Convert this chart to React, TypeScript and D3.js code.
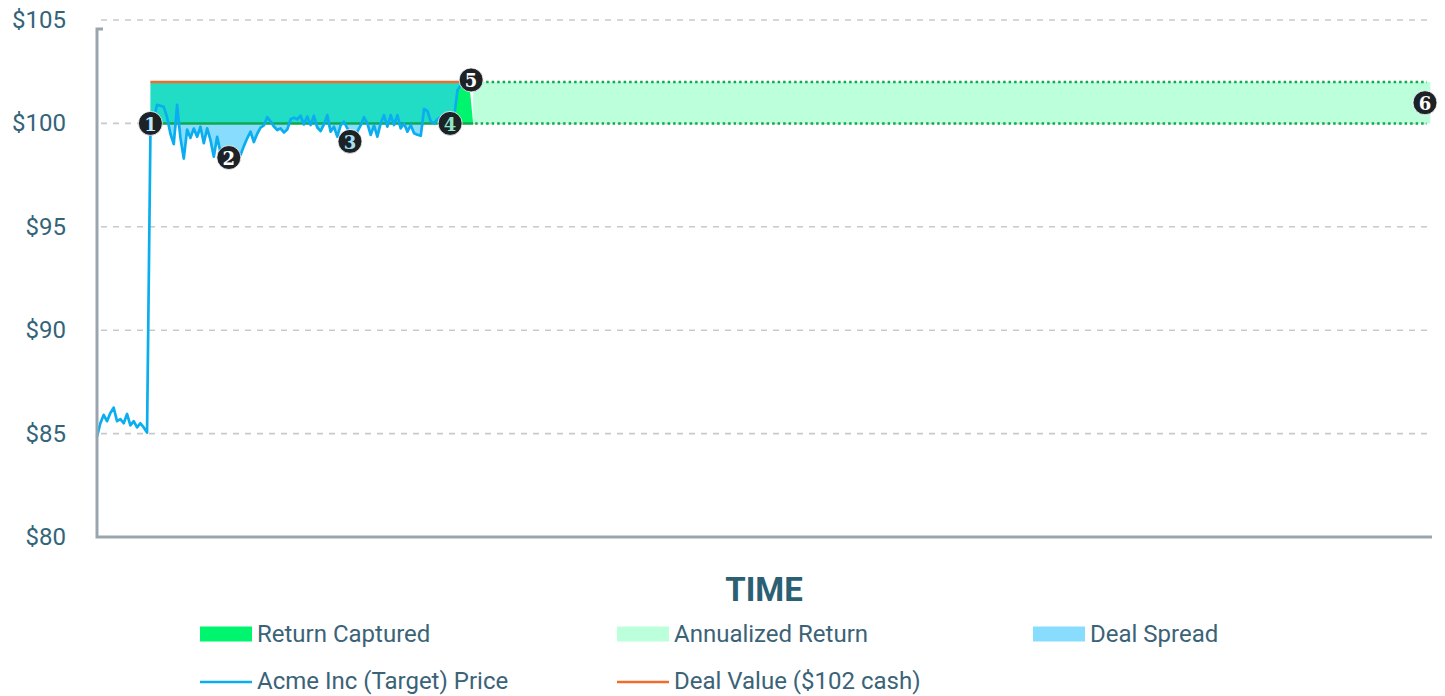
import React from "react";
import * as d3 from "d3";

// ---------- data ----------
const priceValues: number[] = [
  84.85, 85.5, 85.9, 85.6, 86.0, 86.25, 85.6, 85.7, 85.5, 85.95, 85.4, 85.6, 85.3, 85.5, 85.3, 85.05,
  99.4, 100.2, 100.9, 100.85, 100.8, 100.3, 99.5, 99.0, 100.9, 99.3, 98.3, 99.7, 99.3, 99.75,
  99.35, 99.84, 99.04, 99.76, 99.2, 98.39, 99.35, 98.6, 98.4, 98.5, 98.3, 98.4, 98.6, 98.47,
  98.9, 99.28, 99.6, 99.1, 99.5, 99.8, 99.9, 100.3, 100.1, 99.85, 99.68, 99.76, 99.56, 99.7,
  100.2, 100.28, 100.2, 100.37, 99.95, 100.33, 99.92, 100.37, 99.8, 99.63, 99.95, 100.4, 99.6,
  99.84, 99.36, 99.9, 100.08, 99.76, 99.4, 99.2, 99.6, 99.9, 100.3, 100.0, 99.44, 99.9, 99.36,
  100.0, 100.4, 99.84, 100.4, 99.92, 100.4, 99.76, 100.0, 99.6, 99.92, 99.52, 99.45, 99.4,
  100.7, 100.6, 100.1, 100.0, 100.2, 100.3, 100.0, 99.9, 100.0, 100.3, 101.6, 101.85, 102.0,
];
const yTicks: number[] = [80, 85, 90, 95, 100, 105];
const baseline = 100; // current price after announcement
const dealValue = 102; // cash offer
const dealStart = 16; // announcement day
const spreadEnd = 106;
const tealEnd = 111;
const captureStart = 106;
const captureTopEnd = 111.5;
const captureBottomEnd = 112.7;
const annualEnd = 399.5;
const dottedEnd = 398.5;

const markerIds: number[] = [1, 2, 3, 4, 5, 6];
const markerDays: number[] = [16, 39.5, 75.8, 105.8, 112.1, 397.9];
const markerPrices: number[] = [100, 98.35, 99.13, 100, 102.1, 101];
const markerTextColors: string[] = ["#bfe9ff", "#ffffff", "#a6e0f7", "#8fe6c6", "#ffffff", "#ffffff"];

const legendLabels: string[] = [
  "Return Captured",
  "Annualized Return",
  "Deal Spread",
  "Acme Inc (Target) Price",
  "Deal Value ($102 cash)",
];
const legendKinds: string[] = ["rect", "rect", "rect", "line", "line"];

const C = {
  teal: "#22ddc5",
  captured: "#00f56e",
  annual: "#bcffdb",
  spread: "#88ddff",
  price: "#0aaeef",
  deal: "#f26b2b",
  green: "#10a84f",
  grid: "#c9c9c9",
  axis: "#9aa6ae",
  text: "#33647a",
  marker: "#1c2226",
};
const legendColors: string[] = [C.captured, C.annual, C.spread, C.price, C.deal];

export default function App() {
  const W = 1445, H = 696;
  const x = d3.scaleLinear().domain([0, 400]).range([97, 1432]);
  const y = d3.scaleLinear().domain([80, 105]).range([537, 20]);
  const font = "Roboto, 'Noto Sans', sans-serif";

  const pricePts = priceValues.map((v, i) => ({ t: i, v }));
  const line = d3.line<{ t: number; v: number }>().x((d) => x(d.t)).y((d) => y(d.v));

  const spreadArea = d3
    .area<{ t: number; v: number }>()
    .x((d) => x(d.t))
    .y0(y(baseline))
    .y1((d) => y(Math.min(d.v, baseline)));
  const spreadPts = pricePts.filter((d) => d.t >= dealStart && d.t <= spreadEnd);

  const capturePoly: [number, number][] = [
    ...pricePts
      .filter((d) => d.t >= captureStart)
      .map((d) => [d.t, Math.min(Math.max(d.v, baseline), dealValue)] as [number, number]),
    [captureTopEnd, dealValue],
    [captureBottomEnd, baseline],
  ];
  const polyLine = d3.line<[number, number]>().x((d) => x(d[0])).y((d) => y(d[1]));
  const capturePath = polyLine([[captureStart, baseline], ...capturePoly]) + "Z";

  const colX = [200, 617, 1033];
  const rowY = [634, 681];

  return (
    <svg width={W} height={H} style={{ position: "absolute", left: 0, top: 0, background: "#fff" }}>
      {/* grid */}
      {yTicks.filter((t) => t !== 80).map((t) => (
        <line key={"g" + t} x1={x(0) + 4} x2={x(400)} y1={y(t)} y2={y(t)}
          stroke={C.grid} strokeWidth={1.6} strokeDasharray="6 6" />
      ))}
      {/* tick labels */}
      {yTicks.map((t) => (
        <text key={"l" + t} x={66} y={y(t)} textAnchor="end" dominantBaseline="central"
          fontFamily={font} fontSize={24} fill={C.text}>{"$" + t}</text>
      ))}
      {/* teal band */}
      <rect x={x(dealStart)} y={y(dealValue)} width={x(tealEnd) - x(dealStart)}
        height={y(baseline) - y(dealValue)} fill={C.teal} />
      {/* spread */}
      <path d={spreadArea(spreadPts) || ""} fill={C.spread} />
      {/* return captured */}
      <path d={capturePath} fill={C.captured} />
      {/* annualized */}
      <rect x={x(captureBottomEnd)} y={y(dealValue)} width={x(annualEnd) - x(captureBottomEnd)}
        height={y(baseline) - y(dealValue)} fill={C.annual} />
      {[baseline, dealValue].map((v) => (
        <line key={"d" + v} x1={x(captureBottomEnd) + 2} x2={x(dottedEnd)} y1={y(v)} y2={y(v)}
          stroke={C.green} strokeWidth={2.5} strokeDasharray="2.5 3" />
      ))}
      {/* deal value & baseline */}
      <line x1={x(dealStart)} x2={x(tealEnd - 0.5)} y1={y(dealValue)} y2={y(dealValue)} stroke={C.deal} strokeWidth={2.5} />
      <line x1={x(dealStart)} x2={x(captureBottomEnd)} y1={y(baseline)} y2={y(baseline)} stroke={C.green} strokeWidth={2.5} />
      {/* price */}
      <path d={line(pricePts) || ""} fill="none" stroke={C.price} strokeWidth={2.7} strokeLinejoin="round" />
      {/* axes */}
      <path d={`M${x(0) + 6},29 H${x(0)} V${y(80)} H${x(400)}`} fill="none" stroke={C.axis} strokeWidth={3} />
      {/* markers */}
      {markerIds.map((id, i) => (
        <g key={"m" + id} transform={`translate(${x(markerDays[i])},${y(markerPrices[i])})`}>
          <circle r={12} fill={C.marker} stroke="#fff" strokeWidth={0.8} />
          <text textAnchor="middle" dominantBaseline="central" y={1}
            fontFamily="'DejaVu Serif', serif" fontWeight="bold" fontSize={18} fill={markerTextColors[i]}>{id}</text>
        </g>
      ))}
      {/* x title */}
      <text x={764} y={589} textAnchor="middle" dominantBaseline="central" fontFamily={font}
        fontWeight="bold" fontSize={33} fill="#2b5f74">TIME</text>
      {/* legend */}
      {legendLabels.map((lab, i) => {
        const cx = colX[i % 3];
        const cy = rowY[Math.floor(i / 3)];
        return (
          <g key={"lg" + i}>
            {legendKinds[i] === "rect" ? (
              <rect x={cx} y={cy - 7.5} width={52} height={15} fill={legendColors[i]} />
            ) : (
              <line x1={cx} x2={cx + 52} y1={cy + 1} y2={cy + 1} stroke={legendColors[i]} strokeWidth={2.5} />
            )}
            <text x={cx + 57} y={cy} dominantBaseline="central" fontFamily={font} fontSize={24}
              fill="#3b6377">{lab}</text>
          </g>
        );
      })}
    </svg>
  );
}
